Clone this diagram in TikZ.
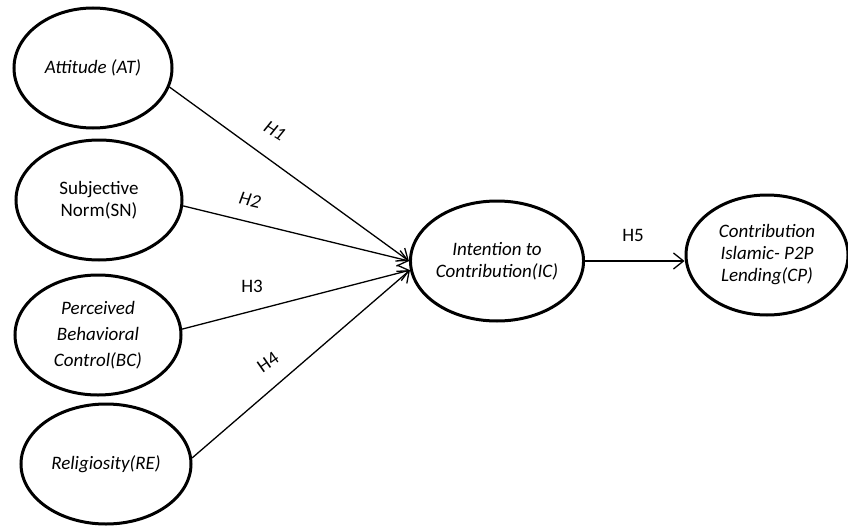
\documentclass[tikz,border=0pt]{standalone}
\usepackage{fontspec}
\setmainfont{Carlito}
\usetikzlibrary{shapes,arrows.meta,positioning,calc}

\begin{document}
\begin{tikzpicture}
[x=1pt,y=-1pt,
construct/.style={shape=ellipse,draw=black,line width=3pt,inner sep=0pt,
  minimum width=166pt,minimum height=120pt,align=center,
  font=\fontsize{19}{22}\selectfont},
hyp/.style={-{Straight Barb[length=10pt,width=16pt]}, line width=1.3pt},
hlabel/.style={font=\fontsize{19}{22}\selectfont,inner sep=1pt}]
\useasboundingbox (0,0) rectangle (848,527);
%%
\node (AT) [construct,minimum width=158pt] at (93,68) {\itshape Attitude (AT)};
\node (SN) [construct] at (99,200) {Subjective\\Norm(SN)};
\node (BC) [construct] at (98,335) {\itshape Perceived\\[4pt]\itshape Behavioral\\[4pt]\itshape Control(BC)};
\node (RE) [construct,minimum width=170pt] at (106,464) {\itshape Religiosity(RE)};
\node (IC) [construct,minimum width=168pt] at (497,261) {\itshape Intention to\\\itshape Contribution(IC)};
\node (CP) [construct,minimum width=162pt] at (767,255) {\itshape Contribution\\\itshape Islamic- P2P\\\itshape Lending(CP)};
%%
\draw[hyp] (AT.-14) -- (IC.west);
\draw[hyp] (SN.-4) -- (IC.west);
\draw[hyp] (BC.4) -- (IC.186);
\draw[hyp] (RE.4) -- (IC.186);
\draw[hyp] (IC.east) -- (IC.east -| CP.west);
%%
\node (h1) [hlabel,rotate=-32] at (275,131) {\itshape H1};
\node (h2) [hlabel,rotate=-13] at (250,200) {\itshape H2};
\node (h3) [hlabel] at (252,286) {H3};
\node (h4) [hlabel,rotate=35] at (268,362) {H4};
\node (h5) [hlabel] at (633,235) {H5};
\end{tikzpicture}
\end{document}
